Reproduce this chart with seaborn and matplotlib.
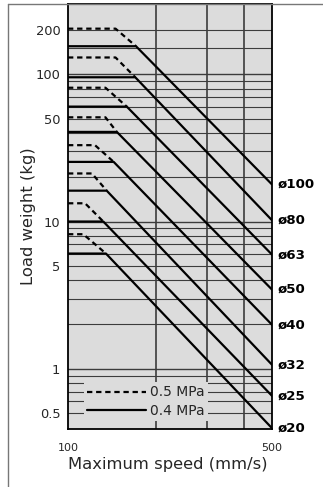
import matplotlib
matplotlib.use("Agg")
import matplotlib.pyplot as plt
from matplotlib.lines import Line2D
import seaborn as sns
import pandas as pd

# ---- data ----
bores = ["ø100", "ø80", "ø63", "ø50", "ø40", "ø32", "ø25", "ø20"]
load_05 = [204, 130, 81, 51, 33, 21.2, 13.3, 8.2]          # plateau at 0.5 MPa (kg)
speed_05_corner = [145.5, 145.5, 134.4, 134.4, 123.7, 120.8, 114.4, 112.8]
load_04 = [155, 95.4, 60.3, 40.6, 25.4, 16.2, 10.0, 6.06]  # plateau at 0.4 MPa (kg)
speed_04_corner = [171, 170, 159, 147, 143.4, 135.7, 132.1, 134.9]
load_at_500 = [17.85, 10.2, 5.96, 3.45, 1.99, 1.065, 0.655, 0.395]
speed_min, speed_max = 100, 500
pressures = ["0.5 MPa", "0.4 MPa"]
ytick_vals = [0.5, 1, 5, 10, 50, 100, 200]
ytick_labels = ["0.5", "1", "5", "10", "50", "100", "200"]
xtick_vals = [100, 500]
xtick_labels = ["100", "500"]
hgrid = [0.5, 0.6, 0.7, 0.8, 0.9, 1, 2, 3, 4, 5, 6, 7, 8, 9,
         10, 20, 30, 40, 50, 60, 70, 80, 90, 100, 150, 200]
vgrid = [200, 300, 400]

rows = []
for i, b in enumerate(bores):
    # 0.4 MPa (solid)
    for s, l in [(speed_min, load_04[i]), (speed_04_corner[i], load_04[i]),
                 (speed_max, load_at_500[i])]:
        rows.append(dict(bore=b, pressure="0.4 MPa", speed=s, load=l))
    # 0.5 MPa (dashed)
    for s, l in [(speed_min, load_05[i]), (speed_05_corner[i], load_05[i]),
                 (speed_04_corner[i], load_04[i])]:
        rows.append(dict(bore=b, pressure="0.5 MPa", speed=s, load=l))
df = pd.DataFrame(rows)

sns.set_style("white")
plt.rcParams["font.family"] = ["DejaVu Sans"]

W, H = 323, 487
fig = plt.figure(figsize=(W / 100, H / 100), dpi=100)
ax = fig.add_axes([68 / W, 1 - 429 / H, 204 / W, 425 / H])
ax.set_facecolor("#dcdcdc")
ax.set_xscale("log")
ax.set_yscale("log")
ax.set_xlim(speed_min, speed_max)
ax.set_ylim(0.39, 300)

for v in hgrid:
    lw = 1.0 if v in (1, 10, 100) else 0.8
    ax.axhline(v, color="#3c3c3c", lw=lw, zorder=1)
for v in vgrid:
    ax.axvline(v, color="#3c3c3c", lw=1.2, zorder=1)

dash = (2.4, 1.7)
sns.lineplot(data=df, x="speed", y="load", units="bore", style="pressure",
             style_order=pressures, dashes={"0.5 MPa": dash, "0.4 MPa": ""},
             estimator=None, sort=False, color="black", lw=1.6,
             legend=False, ax=ax, zorder=3)

for i, b in enumerate(bores):
    ax.text(1.025, load_at_500[i], b, transform=ax.get_yaxis_transform(),
            ha="left", va="center", fontsize=9.6, fontweight="bold", color="black")

ax.set_yticks(ytick_vals)
ax.set_yticklabels(ytick_labels)
ax.set_xticks(xtick_vals)
ax.set_xticklabels(xtick_labels)
ax.minorticks_off()
ax.tick_params(axis="y", length=0, pad=5.5, labelsize=9.4)
ax.tick_params(axis="x", length=0, pad=10, labelsize=8)
for lab in ax.get_xticklabels():
    lab.set_family(["Liberation Sans Narrow", "DejaVu Sans"])

for sp in ax.spines.values():
    sp.set_color("black")
    sp.set_linewidth(1.3)

ax.set_xlabel("Maximum speed (mm/s)", fontsize=11.8)
ax.xaxis.label.set_va("center")
ax.xaxis.set_label_coords(0.49, (429 - 465) / 425)
ax.set_ylabel("Load weight (kg)", fontsize=11.8)
ax.yaxis.label.set_va("center")
ax.yaxis.set_label_coords((29 - 68) / 204, 0.5)

handles = [Line2D([], [], color="black", lw=1.6, dashes=dash),
           Line2D([], [], color="black", lw=1.6)]
leg = ax.legend(handles, pressures, loc="lower left",
                bbox_to_anchor=((84 - 68) / 204, (429 - 421) / 425),
                frameon=True, facecolor="#dcdcdc", edgecolor="none", framealpha=1,
                fontsize=10, handlelength=4.2, handletextpad=0.3,
                labelspacing=0.3, borderpad=0.25, borderaxespad=0)
leg.get_frame().set_boxstyle("square", pad=0)
leg.set_zorder(2.5)

# outer frame of the figure (top and left)
fig.add_artist(Line2D([8 / W, 1], [1 - 4 / H, 1 - 4 / H], color="#777777", lw=1.0))
fig.add_artist(Line2D([8 / W, 8 / W], [0, 1 - 4 / H], color="#777777", lw=1.0))

fig.savefig("out.png", dpi=100)
